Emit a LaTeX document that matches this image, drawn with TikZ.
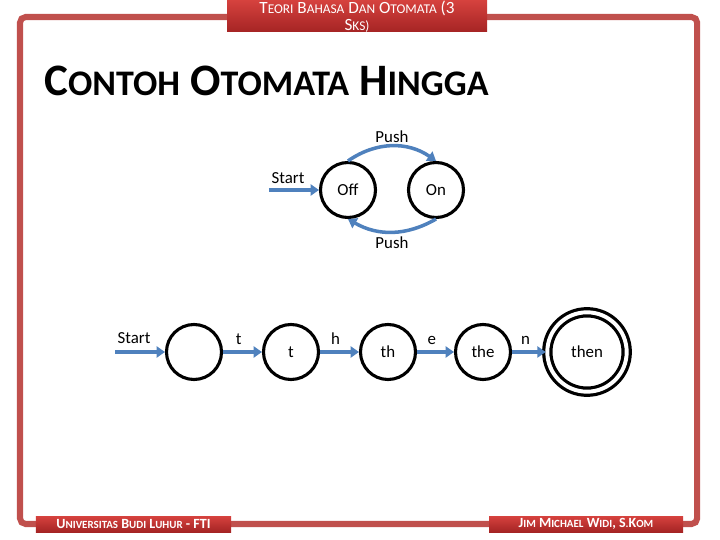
\documentclass[tikz,border=0pt]{standalone}
\usepackage{fontspec}
\setmainfont{Carlito}
\usetikzlibrary{arrows.meta}

\definecolor{framered}{RGB}{192,80,77}
\definecolor{boxtop}{RGB}{214,66,62}
\definecolor{boxbot}{RGB}{165,36,36}
\definecolor{arrowblue}{RGB}{79,129,189}

\newcommand{\fsc}[2]{#1\scalebox{0.78}{#2}}

\begin{document}
\begin{tikzpicture}[
    state/.style={circle, draw=black, line width=2.2pt, minimum size=1.375cm, inner sep=0pt, font=\fontsize{12}{14}\selectfont},
    accept/.style={state, double, double distance=2.8pt, line width=2.3pt, minimum size=1.985cm},
    arr/.style={draw=arrowblue, line width=2.5pt, -{Triangle[length=6pt,width=8pt]}},
    lbl/.style={font=\fontsize{12}{14}\selectfont, inner sep=1pt},
    redbox/.style={top color=boxtop, bottom color=boxbot, draw=none, inner sep=0pt},
    foot/.style={redbox, minimum height=0.40cm, text=white, font=\bfseries\fontsize{10}{11}\selectfont}
  ]
  \useasboundingbox (0,0) rectangle (18,13.5);

  \draw[framered, line width=4.3pt, rounded corners=4pt] (0.50,0.40) rectangle (17.43,13.075);

  % header
  \coordinate (H1) at (5.675,12.70);
  \coordinate (H2) at (12.175,13.50);
  \shade[redbox] (H1) rectangle (H2);
  \begin{scope}
    \clip (H1) rectangle (H2);
    \node[anchor=base, text=white, font=\fontsize{12.2}{13}\selectfont] (hdrA) at (8.925,13.15)
      {\fsc{T}{EORI} \fsc{B}{AHASA} \fsc{D}{AN} \fsc{O}{TOMATA} (3};
    \node[anchor=base, text=white, font=\fontsize{12.2}{13}\selectfont] (hdrB) at (8.925,12.74)
      {\fsc{S}{KS)}};
  \end{scope}

  \node[anchor=base west, inner sep=0pt, font=\bfseries\fontsize{32}{34}\selectfont] (title) at (1.10,11.10)
    {C\scalebox{0.8}{ONTOH} O\scalebox{0.8}{TOMATA} H\scalebox{0.8}{INGGA}};

  % footer
  \node[foot, minimum width=4.875cm] (uni) at (3.3375,0.40)
    {\fsc{U}{NIVERSITAS} \fsc{B}{UDI} \fsc{L}{UHUR} - FTI};
  \node[foot, minimum width=4.85cm] (auth) at (14.65,0.40)
    {\fsc{J}{IM} \fsc{M}{ICHAEL} \fsc{W}{IDI}, \fsc{S}{.}\fsc{K}{OM}};

  % on / off
  \coordinate (S1) at (6.72,8.75);
  \coordinate (Off) at (8.70,8.75);
  \coordinate (On) at (10.90,8.75);

  \node[state] (off) at (Off) {Off};
  \node[state] (on) at (On) {On};
  \node[lbl] (st1) at (7.20,9.05) {Start};
  \draw[arr] (S1) -- (off);
  \draw[arr] (off.north) to[out=35, in=145] node[lbl, above=0pt] (push1) {Push} (on.north);
  \draw[arr] (on.south) to[out=-150, in=-30] node[lbl, below=1pt] (push2) {Push} (off.south);

  % then
  \coordinate (S2) at (2.875,4.70);
  \coordinate (Q0) at (4.85,4.70);
  \coordinate (Q1) at (7.275,4.70);
  \coordinate (Q2) at (9.70,4.70);
  \coordinate (Q3) at (12.075,4.70);
  \coordinate (Q4) at (14.675,4.70);

  \node[state] (q0) at (Q0) {};
  \node[state] (q1) at (Q1) {t};
  \node[state] (q2) at (Q2) {th};
  \node[state] (q3) at (Q3) {the};
  \node[accept] (q4) at (Q4) {then};
  \node[lbl] (st2) at (3.35,5.05) {Start};

  \draw[arr] (S2) -- (q0);
  \draw[arr] (q0) -- node[lbl, pos=0.4, above=3pt] (lt) {t} (q1);
  \draw[arr] (q1) -- node[lbl, pos=0.4, above=3pt] (lh) {h} (q2);
  \draw[arr] (q2) -- node[lbl, pos=0.4, above=3pt] (le) {e} (q3);
  \draw[arr] (q3) -- node[lbl, pos=0.4, above=3pt] (ln) {n} (q4);
\end{tikzpicture}
\end{document}
